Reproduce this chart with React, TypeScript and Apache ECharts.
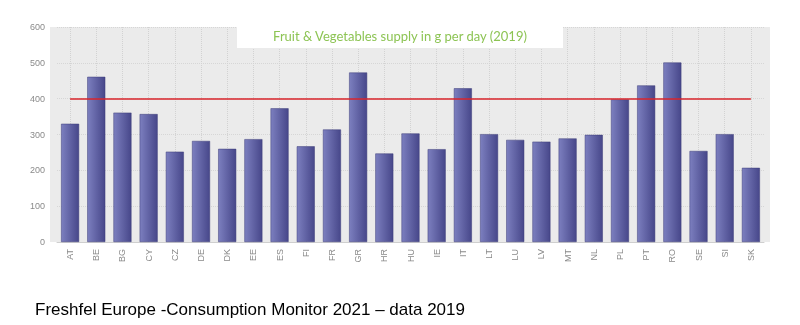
import React, { useEffect, useRef } from "react";
import * as echarts from "echarts";

const categories = ["AT","BE","BG","CY","CZ","DE","DK","EE","ES","FI","FR","GR","HR","HU","IE","IT","LT","LU","LV","MT","NL","PL","PT","RO","SE","SI","SK"];
const supply = [330,461,361,357,252,282,260,287,373,267,314,473,247,303,259,429,301,285,280,289,299,398,437,501,254,301,207];
const recommended = 400;
const yTicks = { min: 0, max: 600, interval: 100 };
const titleText = "Fruit & Vegetables supply in g per day (2019)";
const footerText = "Freshfel Europe -Consumption Monitor 2021 \u2013 data 2019";

export default function App() {
  const ref = useRef<HTMLDivElement>(null);
  useEffect(() => {
    if (!ref.current) return;
    const chart = echarts.init(ref.current, undefined, { renderer: "svg" });
    chart.setOption({
      animation: false,
      grid: { left: 57, right: 36, top: 27, bottom: 83 },
      graphic: [
        { type: "rect", z: -10, silent: true, shape: { x: 50, y: 27, width: 720, height: 215 }, style: { fill: "#ebebeb" } },
        { type: "rect", z: 100, shape: { x: 237, y: 26, width: 326, height: 22 }, style: { fill: "#ffffff" } },
        { type: "text", z: 101, x: 400, y: 36, style: { text: titleText, fill: "#8dc454", font: "13px Lato", align: "center", verticalAlign: "middle" } },
        { type: "text", x: 35, y: 301, style: { text: footerText, fill: "#000", font: "17px 'Liberation Sans'", align: "left", verticalAlign: "top" } },
      ],
      xAxis: {
        type: "category",
        data: categories,
        axisLine: { lineStyle: { color: "#cfcfcf" } },
        axisTick: { show: false },
        axisLabel: { rotate: 90, color: "#8a8a8a", fontSize: 9, fontFamily: "Liberation Sans", margin: 7 },
        splitLine: { show: true, alignWithLabel: true, lineStyle: { color: "#d2d2d2", type: "dotted" } },
      },
      yAxis: {
        type: "value",
        min: yTicks.min,
        max: yTicks.max,
        interval: yTicks.interval,
        axisLine: { show: false },
        axisTick: { show: false },
        axisLabel: { color: "#8a8a8a", fontSize: 9, fontFamily: "Liberation Sans", margin: 12 },
        splitLine: { lineStyle: { color: "#d6d6d6", type: "dotted" } },
      },
      series: [
        {
          type: "bar",
          data: supply,
          barWidth: 18,
          itemStyle: {
            color: new echarts.graphic.LinearGradient(0, 0, 1, 0, [
              { offset: 0, color: "#7c7fbf" },
              { offset: 1, color: "#47478a" },
            ]),
            borderColor: "#3d3d78",
            borderWidth: 0.5,
          },
          markLine: {
            silent: true,
            symbol: "none",
            label: { show: false },
            lineStyle: { color: "#d9252b", width: 1.5, type: "solid" },
            data: [[
              { xAxis: categories[0], yAxis: recommended },
              { xAxis: categories[categories.length - 1], yAxis: recommended },
            ]],
          },
        },
      ],
    });
    return () => chart.dispose();
  }, []);
  return <div ref={ref} style={{ position: "fixed", left: 0, top: 0, width: 800, height: 325 }} />;
}
